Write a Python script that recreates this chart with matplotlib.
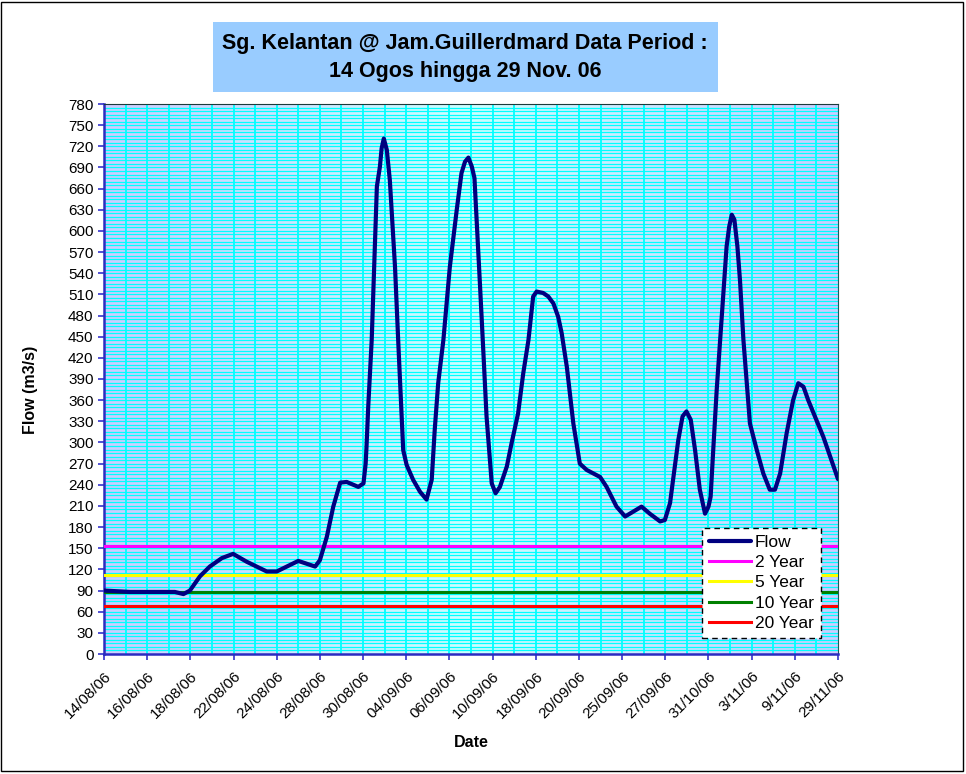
import matplotlib
matplotlib.use("Agg")
import matplotlib.pyplot as plt
import matplotlib.patches as mpatches
import numpy as np
from matplotlib.colors import LinearSegmentedColormap

plt.rcParams["font.family"] = ["Liberation Sans", "DejaVu Sans"]

# ── Data ──────────────────────────────────────────────────────────────────────
date_labels = [
    "14/08/06", "16/08/06", "18/08/06", "22/08/06", "24/08/06", "28/08/06",
    "30/08/06", "04/09/06", "06/09/06", "10/09/06", "18/09/06", "20/09/06",
    "25/09/06", "27/09/06", "31/10/06", "3/11/06", "9/11/06", "29/11/06",
]

# position along the category axis (label index units) and flow (m3/s)
flow_pos = [
    0.00, 0.60, 1.30, 1.64, 1.84, 1.99, 2.22, 2.45, 2.73, 2.99, 3.30, 3.77,
    4.00, 4.50, 4.89, 5.00, 5.16, 5.31, 5.47, 5.62, 5.89, 6.01, 6.06, 6.08,
    6.12, 6.20, 6.32, 6.39, 6.43, 6.48, 6.55, 6.62, 6.74, 6.82, 6.93, 7.01,
    7.16, 7.32, 7.47, 7.59, 7.66, 7.74, 7.86, 8.01, 8.17, 8.28, 8.36, 8.44,
    8.52, 8.58, 8.63, 8.71, 8.78, 8.86, 8.98, 9.07, 9.17, 9.33, 9.44, 9.59,
    9.71, 9.83, 9.94, 10.02, 10.17, 10.29, 10.41, 10.52, 10.60, 10.72, 10.87,
    11.02, 11.18, 11.49, 11.64, 11.87, 12.07, 12.26, 12.45, 12.64, 12.88,
    12.99, 13.11, 13.18, 13.30, 13.40, 13.49, 13.59, 13.69, 13.80, 13.92,
    14.00, 14.05, 14.11, 14.19, 14.27, 14.34, 14.42, 14.48, 14.54, 14.60,
    14.67, 14.73, 14.81, 14.96, 15.12, 15.27, 15.42, 15.54, 15.66, 15.81,
    15.96, 16.08, 16.20, 16.31, 16.66, 17.00,
]
flow = [
    90, 88, 88, 88, 85, 90, 110, 124, 136, 142, 131, 117,
    117, 132, 124, 133, 166, 209, 243, 244, 237, 242, 270, 294,
    351, 445, 663, 691, 717, 731, 715, 672, 549, 436, 289, 268,
    247, 230, 219, 247, 318, 384, 445, 549, 630, 682, 698, 704,
    691, 675, 616, 521, 436, 337, 242, 228, 237, 266, 299, 341,
    398, 445, 507, 514, 512, 507, 497, 478, 455, 407, 327,
    270, 261, 251, 237, 209, 195, 202, 209, 199, 188,
    190, 214, 247, 303, 337, 344, 332, 289, 233, 199,
    209, 223, 289, 374, 445, 507, 578, 606, 623, 616,
    578, 530, 445, 327, 289, 256, 233, 233, 256, 313,
    360, 384, 379, 360, 308, 248,
]

return_periods = ["2 Year", "5 Year", "10 Year", "20 Year"]
return_flows = [153, 112, 87.5, 68]
return_colors = ["#FF00FF", "#FFFF00", "#008000", "#FF0000"]

# ── Figure ────────────────────────────────────────────────────────────────────
fig = plt.figure(figsize=(9.66, 7.74), dpi=100)
ax = fig.add_axes([104 / 966, 1 - 654 / 774, (838 - 104) / 966, (654 - 104) / 774])

n_cat = len(date_labels) - 1
ax.set_xlim(0, n_cat)
ax.set_ylim(0, 780)

# gradient background: lavender edges, pale cyan centre
grad_cmap = LinearSegmentedColormap.from_list(
    "bg", ["#CCCCFF", "#CCFFFF", "#CCCCFF"])
ax.imshow(np.linspace(0, 1, 256)[None, :], cmap=grad_cmap, aspect="auto",
          extent=[0, 1, 0, 1], transform=ax.transAxes, zorder=0)

for yv in np.arange(5, 780, 5):
    ax.axhline(yv, color="#00FFFF", lw=0.9, zorder=1)
for xv in np.arange(0.5, n_cat, 0.5):
    ax.axvline(xv, color="#00FFFF", lw=1.3, zorder=1)

for lbl, val, col in zip(return_periods, return_flows, return_colors):
    ax.axhline(val, color=col, lw=2.2, label=lbl, zorder=3)

(flow_line,) = ax.plot(flow_pos, flow, color="#000080", lw=3.0,
                       solid_joinstyle="round", solid_capstyle="round",
                       label="Flow", zorder=4)

ax.set_yticks(np.arange(0, 781, 30))
ax.set_xticks(np.arange(len(date_labels)))
ax.set_xticklabels(date_labels, rotation=45, ha="right", va="top",
                   rotation_mode="anchor")
ax.tick_params(axis="both", colors="#3333CC", labelcolor="black",
               labelsize=11, length=4, width=1.2, direction="out")
ax.tick_params(axis="x", pad=7)

for side in ("left", "bottom"):
    ax.spines[side].set_color("#2B2BC0")
    ax.spines[side].set_linewidth(1.8)
ax.spines["top"].set_color("#1A3A3A")
ax.spines["right"].set_color("#1A5A5A")

ax.set_ylabel("Flow (m3/s)", fontsize=11.5, fontweight="bold")
ax.yaxis.set_label_coords(-0.09, 0.48)
ax.set_xlabel("Date", fontsize=11.5, fontweight="bold", labelpad=10)

handles = [flow_line] + [h for h in ax.get_lines() if h.get_label() in return_periods]
leg = ax.legend(handles=handles, loc="lower right",
                bbox_to_anchor=((821 - 104) / 734, (654 - 638) / 550),
                fontsize=12.5, frameon=True, fancybox=False, framealpha=1,
                handlelength=2.4, handletextpad=0.25, labelspacing=0.3,
                borderpad=0.4, borderaxespad=0)
leg.get_frame().set_edgecolor("black")
leg.get_frame().set_linestyle((0, (4, 3)))
leg.get_frame().set_linewidth(1.0)
leg.set_zorder(10)

# title box
fig.patches.append(mpatches.Rectangle(
    (213 / 966, 1 - 92 / 774), (718 - 213) / 966, (92 - 22) / 774,
    transform=fig.transFigure, facecolor="#99CCFF", edgecolor="none"))
fig.text(465 / 966, 1 - 44 / 774, "Sg. Kelantan @ Jam.Guillerdmard Data Period :",
         ha="center", va="center", fontsize=15.5, fontweight="bold")
fig.text(465 / 966, 1 - 72 / 774, "14 Ogos hingga 29 Nov. 06",
         ha="center", va="center", fontsize=15.5, fontweight="bold")

# outer chart border
fig.patches.append(mpatches.Rectangle(
    (1 / 966, 3 / 774), 962 / 966, 769 / 774, transform=fig.transFigure,
    facecolor="none", edgecolor="black", lw=1))

fig.savefig("out.png", dpi=100)
